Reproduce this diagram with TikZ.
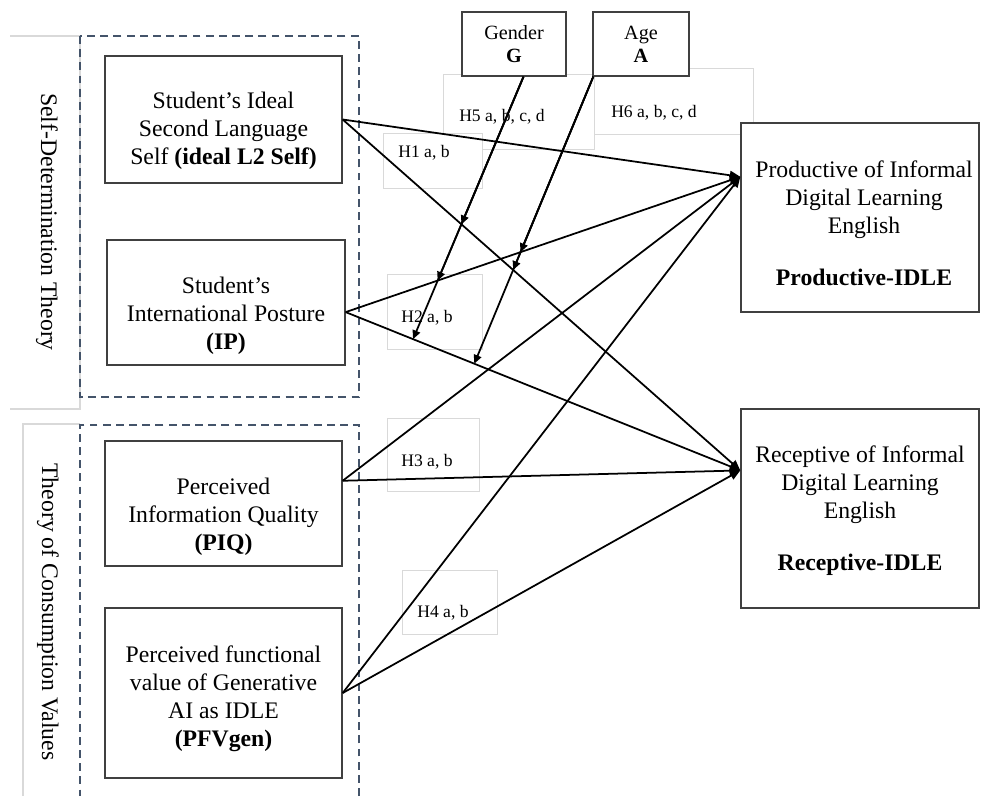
\documentclass[tikz,border=0pt]{standalone}
\usepackage{fontspec}
\setmainfont{Liberation Serif}
\usetikzlibrary{arrows.meta,calc}
\definecolor{dashblue}{HTML}{44546A}
\definecolor{faint}{HTML}{D9D9D9}
\definecolor{boxgray}{HTML}{404040}
\begin{document}
\begin{tikzpicture}[x=0.02cm,y=-0.02cm,
  box/.style={draw=boxgray,line width=0.8pt,fill=white,inner sep=0pt},
  boxtext/.style={align=center,inner sep=0pt,font=\fontsize{13.5}{15.9}\selectfont},
  modbox/.style={draw=boxgray,line width=0.8pt,fill=white,align=center,inner sep=2pt,font=\fontsize{11.5}{13}\selectfont},
  hlab/.style={font=\fontsize{10}{12}\selectfont,inner sep=0pt},
  faintbox/.style={draw=faint,line width=0.5pt,fill=white},
  grp/.style={draw=dashblue,line width=1.1pt,dash pattern=on 4.5pt off 3pt},
  side/.style={draw=faint,line width=0.6pt},
  sidelab/.style={rotate=-90,font=\fontsize{13.5}{15.6}\selectfont},
  conn/.style={draw=black,line width=1pt,-{Triangle[length=6pt,width=5pt]}},
  modarr/.style={draw=black,line width=1pt,-{Triangle[length=5pt,width=4.5pt]}},
]
\fill[white] (0,0) rectangle (981,796);
\useasboundingbox (0,0) rectangle (981,796);

% theory label frames
\draw[side] (10,36) -- (80,36) -- (80,409) -- (10,409);
\draw[side] (80,424) -- (23,424) -- (23,796);
\node[sidelab] (sdt) at (47,222) {Self-Determination Theory};
\node[sidelab] (tcv) at (48,612) {Theory of Consumption Values};

% dashed group frames
\draw[grp] (80,36) rectangle (359,397);
\draw[grp] (359,796) -- (359,425) -- (80,425) -- (80,796);

% hypothesis label frames
\draw[faintbox] (594,68) rectangle (753,134);
\draw[faintbox] (443,74) rectangle (594,149);
\draw[faintbox] (383,133) rectangle (482,188);
\draw[faintbox] (387,274) rectangle (482,349);
\draw[faintbox] (387,418) rectangle (479,491);
\draw[faintbox] (402,570) rectangle (497,634);
\node[hlab] (h5) at (502,117) {H5 a, b, c, d};
\node[hlab] (h6) at (654,113) {H6 a, b, c, d};
\node[hlab] (h1) at (424,153) {H1 a, b};
\node[hlab] (h2) at (427,318) {H2 a, b};
\node[hlab] (h3) at (427,462) {H3 a, b};
\node[hlab] (h4) at (443,613) {H4 a, b};

% construct boxes
\node[box,minimum width=4.74cm,minimum height=2.54cm] (L2) at (223.5,119.5) {};
\node[boxtext] (L2t) at ($(L2.center)+(0,11)$)
  {Student’s Ideal\\Second Language\\Self \textbf{(ideal L2 Self)}};
\node[box,minimum width=4.76cm,minimum height=2.5cm] (IP) at (226,302.5) {};
\node[boxtext] (IPt) at ($(IP.center)+(0,13)$)
  {Student’s\\International Posture\\\textbf{(IP)}};
\node[box,minimum width=4.74cm,minimum height=2.5cm] (PIQ) at (223.5,503.5) {};
\node[boxtext] (PIQt) at ($(PIQ.center)+(0,13)$)
  {Perceived\\Information Quality\\\textbf{(PIQ)}};
\node[box,minimum width=4.74cm,minimum height=3.4cm] (PFV) at (223.5,693) {};
\node[boxtext] (PFVt) at ($(PFV.center)+(0,6)$)
  {Perceived functional\\value of Generative\\AI as IDLE\\\textbf{(PFVgen)}};
\node[modbox,minimum width=2.08cm,minimum height=1.28cm] (G) at (514,44)
  {Gender\\\textbf{G}};
\node[modbox,minimum width=1.92cm,minimum height=1.28cm] (A) at (641,44)
  {Age\\\textbf{A}};
\node[box,minimum width=4.76cm,minimum height=3.78cm] (Prod) at (860,217.5) {};
\node[boxtext] (Prodt) at ($(Prod.center)+(4,6)$)
  {Productive of Informal\\Digital Learning\\English\\[14pt]\textbf{Productive-IDLE}};
\node[box,minimum width=4.76cm,minimum height=3.98cm] (Rec) at (860,508.5) {};
\node[boxtext] (Rect) at ($(Rec.center)+(0,2)$)
  {Receptive of Informal\\Digital Learning\\English\\[14pt]\textbf{Receptive-IDLE}};

% anchor points
\coordinate (pT) at ($(Prod.north west)!0.286!(Prod.south west)$);
\coordinate (rT) at ($(Rec.north west)!0.31!(Rec.south west)$);
\coordinate (sL2) at (L2.east);
\coordinate (sIP) at ($(IP.north east)!0.576!(IP.south east)$);
\coordinate (sPIQ) at ($(PIQ.north east)!0.32!(PIQ.south east)$);
\coordinate (sPFV) at (PFV.east);

% hypothesised paths
\draw[conn] (sL2) -- (pT);
\draw[conn] (sL2) -- (rT);
\draw[conn] (sIP) -- (pT);
\draw[conn] (sIP) -- (rT);
\draw[conn] (sPIQ) -- (pT);
\draw[conn] (sPIQ) -- (rT);
\draw[conn] (sPFV) -- (pT);
\draw[conn] (sPFV) -- (rT);

% moderators
\coordinate (gS) at ($(G.south west)!0.59!(G.south east)$);
\coordinate (gE) at (400,370);
\coordinate (aS) at ($(A.south west)!0.01!(A.south east)$);
\coordinate (aE) at (465,386);
\draw[modarr] (gS) -- (intersection of gS--gE and sL2--rT);
\draw[modarr] (gS) -- (intersection of gS--gE and sIP--pT);
\draw[modarr] (gS) -- (intersection of gS--gE and sIP--rT);
\draw[modarr] (aS) -- (intersection of aS--aE and sIP--pT);
\draw[modarr] (aS) -- (intersection of aS--aE and sL2--rT);
\draw[modarr] (aS) -- (intersection of aS--aE and sIP--rT);
\end{tikzpicture}
\end{document}
